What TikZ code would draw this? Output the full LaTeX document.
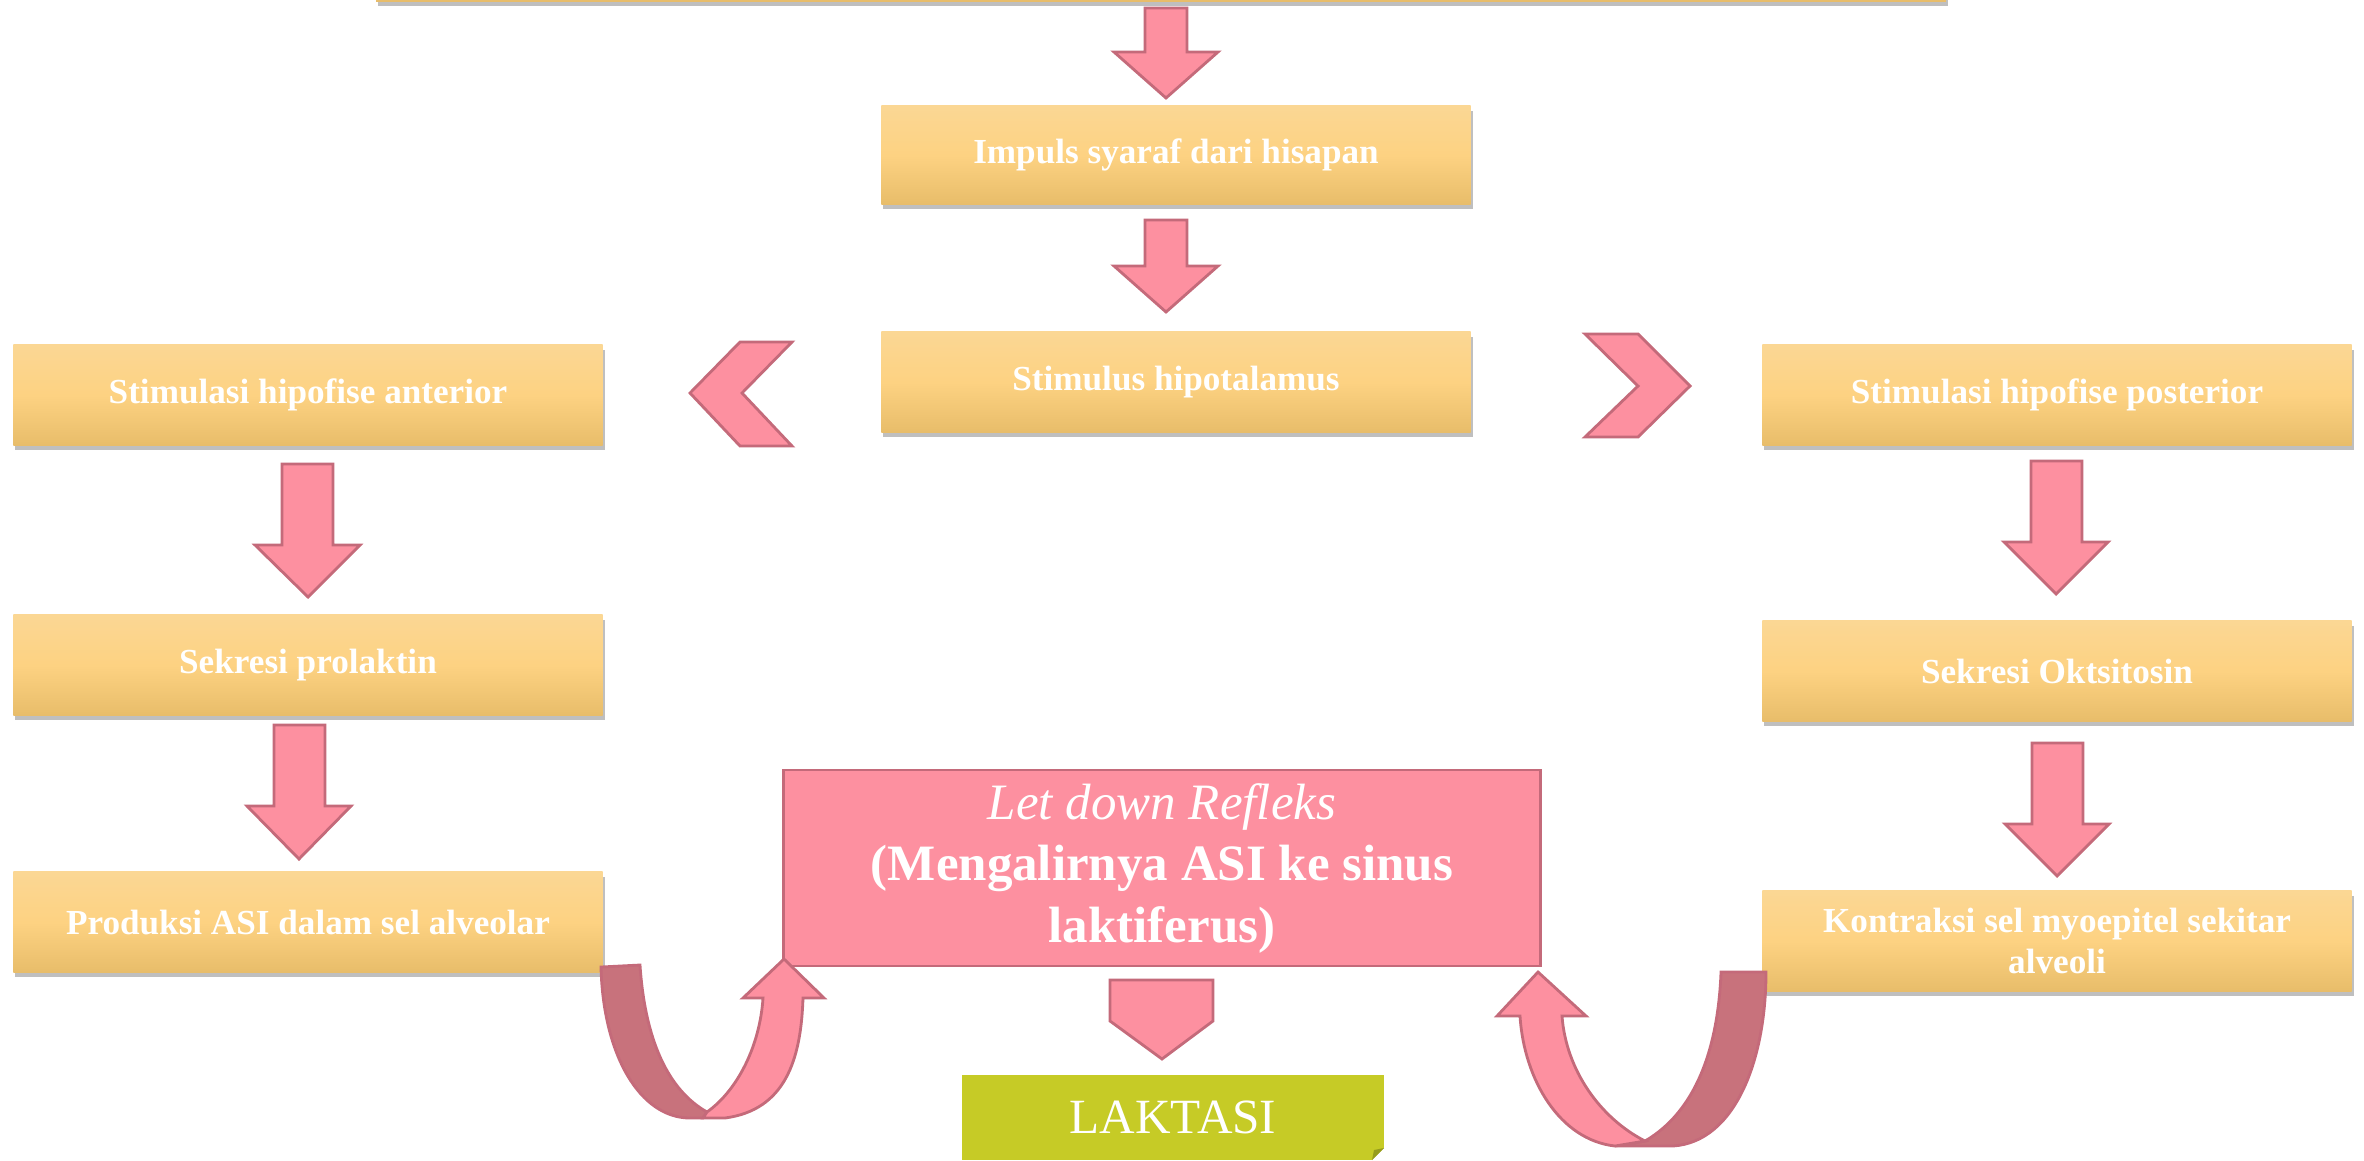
\documentclass[tikz,border=0pt]{standalone}
\usepackage{fontspec}
\setmainfont{Liberation Serif}
\usetikzlibrary{shadows}
\definecolor{kuningatas}{RGB}{251,215,148}
\definecolor{kuningtengah}{RGB}{253,210,130}
\definecolor{kuningbawah}{RGB}{232,189,106}
\definecolor{pinkisi}{RGB}{253,144,160}
\definecolor{pinkgaris}{RGB}{196,106,122}
\definecolor{pinkgelap}{RGB}{200,114,124}
\definecolor{hijau}{RGB}{198,203,38}
\definecolor{hijaulipat}{RGB}{150,156,28}

\begin{document}
\begin{tikzpicture}[x=0.01cm, y=-0.01cm,
    kotak/.style = {shape=rectangle, align=center, text=white,
      minimum width=5.89cm, minimum height=1cm,
      top color=kuningatas, bottom color=kuningbawah, middle color=kuningtengah,
      font=\fontsize{10}{11.5}\selectfont\bfseries,
      drop shadow={shadow xshift=.6pt, shadow yshift=-1.4pt, opacity=.5}},
    panah/.style = {fill=pinkisi, draw=pinkgaris, line width=.8pt},
    lengkung/.style = {fill=pinkgelap, draw=pinkgaris, line width=.8pt}]
  \useasboundingbox (0,0) rectangle (2364,1160);
  \clip (0,0) rectangle (2364,1160);

  % kotak-kotak
  \node[kotak, minimum width=15.69cm] (atas) at (1161,-49) {};
  \node[kotak, minimum height=.98cm] (impuls) at (1176,155) {Impuls syaraf dari hisapan};
  \node[kotak] (hipotalamus) at (1176,382) {Stimulus hipotalamus};
  \node[kotak] (anterior) at (308,395) {Stimulasi hipofise anterior};
  \node[kotak] (posterior) at (2057,395) {Stimulasi hipofise posterior};
  \node[kotak] (prolaktin) at (308,665) {Sekresi prolaktin};
  \node[kotak] (oksitosin) at (2057,671) {Sekresi Oktsitosin};
  \node[kotak] (produksi) at (308,922) {Produksi ASI dalam sel alveolar};
  \node[kotak] (kontraksi) at (2057,941) {Kontraksi sel myoepitel sekitar\\ alveoli};
  \node[shape=rectangle, fill=pinkisi, draw=pinkgaris, line width=.8pt,
    minimum width=7.57cm, minimum height=1.96cm, align=center, text=white,
    font=\fontsize{14.5}{17.5}\selectfont] (refleks) at (1162,868)
    {{\itshape Let down Refleks}\\ \textbf{(Mengalirnya ASI ke sinus}\\ \textbf{laktiferus)}};
  \node[shape=rectangle, fill=hijau, minimum width=4.22cm, minimum height=.85cm,
    text=white, font=\fontsize{14}{16}\selectfont] (laktasi) at (1173,1117.5) {LAKTASI};
  \fill[white] (1372,1160) -- (1384,1148) -- (1384,1160) -- cycle;
  \fill[hijaulipat] (1372,1160) -- (1384,1148) -- (1374,1150) -- cycle;

  % panah ke bawah
  \draw[panah] (1145,8) -- (1187,8) -- (1187,52) -- (1218,52) -- (1166,98) -- (1114,52) -- (1145,52) -- cycle;
  \draw[panah] (1145,220) -- (1187,220) -- (1187,266) -- (1218,266) -- (1166,312) -- (1114,266) -- (1145,266) -- cycle;
  \draw[panah] (282,464) -- (333,464) -- (333,545) -- (360,545) -- (308,597) -- (255,545) -- (282,545) -- cycle;
  \draw[panah] (274,725) -- (325,725) -- (325,806) -- (351,806) -- (299,859) -- (247,806) -- (274,806) -- cycle;
  \draw[panah] (2031,461) -- (2082,461) -- (2082,542) -- (2108,542) -- (2056,594) -- (2004,542) -- (2031,542) -- cycle;
  \draw[panah] (2032,743) -- (2083,743) -- (2083,824) -- (2109,824) -- (2057,876) -- (2005,824) -- (2032,824) -- cycle;
  \draw[panah] (1110,980) -- (1213,980) -- (1213,1021) -- (1162,1059) -- (1110,1021) -- cycle;

  % panah kiri dan kanan
  \draw[panah] (690,393) -- (740,342) -- (792,342) -- (742,393) -- (792,446) -- (740,446) -- cycle;
  \draw[panah] (1585,334) -- (1638,334) -- (1690,386) -- (1638,437) -- (1585,437) -- (1638,386) -- cycle;

  % panah melengkung kiri
  \draw[lengkung] (640,965) -- (601,967) .. controls (603,1055) and (640,1118) .. (690,1118)
    -- (703,1118) -- (707,1112) .. controls (668,1090) and (645,1040) .. cycle;
  \draw[panah] (707,1112) -- (703,1118) -- (725,1118) .. controls (785,1110) and (801,1060) .. (803,998)
    -- (824,998) -- (784,959) -- (743,998) -- (763,998) .. controls (760,1045) and (738,1090) .. cycle;

  % panah melengkung kanan
  \draw[lengkung] (1615,1146) -- (1673,1146) .. controls (1735,1142) and (1766,1060) .. (1766,972)
    -- (1721,972) .. controls (1718,1050) and (1695,1112) .. (1645,1141) -- cycle;
  \draw[panah] (1645,1141) -- (1615,1146) .. controls (1560,1140) and (1524,1080) .. (1520,1016)
    -- (1497,1016) -- (1538,972) -- (1586,1016) -- (1562,1016) .. controls (1566,1070) and (1600,1118) .. cycle;
\end{tikzpicture}
\end{document}
